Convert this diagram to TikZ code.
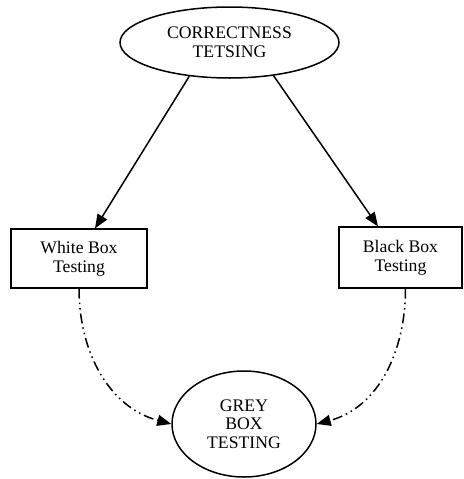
\documentclass[tikz,border=0pt]{standalone}
\usepackage{fontspec}
\setmainfont{Liberation Serif}
\usetikzlibrary{shapes.geometric,arrows.meta}
\tikzset{%
  testnode/.style = {draw, align=center, inner sep=1pt,%
                     font=\fontsize{10.6}{11.2}\selectfont},%
  oval/.style     = {testnode, shape=ellipse},%
  box/.style      = {testnode, shape=rectangle, line width=0.7pt},%
  mixed/.style    = {dash pattern=on 6pt off 2.4pt on 0.9pt off 2.4pt on 0.9pt off 2.4pt}%
}

\begin{document}
\begin{tikzpicture}[x=0.6pt,y=-0.6pt,
	>={Triangle[length=8.4pt,width=6.6pt]},
	every path/.style={line width=0.9pt}]
	\useasboundingbox (0,0) rectangle (464,479);
		\node [oval, minimum width=131.4pt, minimum height=42.6pt] (correct) at (229.5,42.5)
			{CORRECTNESS\\TETSING};
		\node [box, minimum width=81.6pt, minimum height=35.4pt] (white) at (79,258.5)
			{White Box\\Testing};
		\node [box, minimum width=73.8pt, minimum height=36.6pt] (black) at (400.5,257.5)
			{Black Box\\Testing};
		\node [oval, minimum width=86.4pt, minimum height=63.6pt] (grey) at (244,424)
			{GREY\\BOX\\TESTING};
		\draw [->] (correct.220) -- ([xshift=9.6pt]white.north);
		\draw [->] (correct.323) -- ([xshift=-13.5pt]black.north);
		\draw [->, mixed] (white.south) to [out=-90, in=165] (grey.west);
		\draw [->, mixed] ([xshift=3pt]black.south) to [out=-90, in=15] (grey.east);
\end{tikzpicture}
\end{document}
